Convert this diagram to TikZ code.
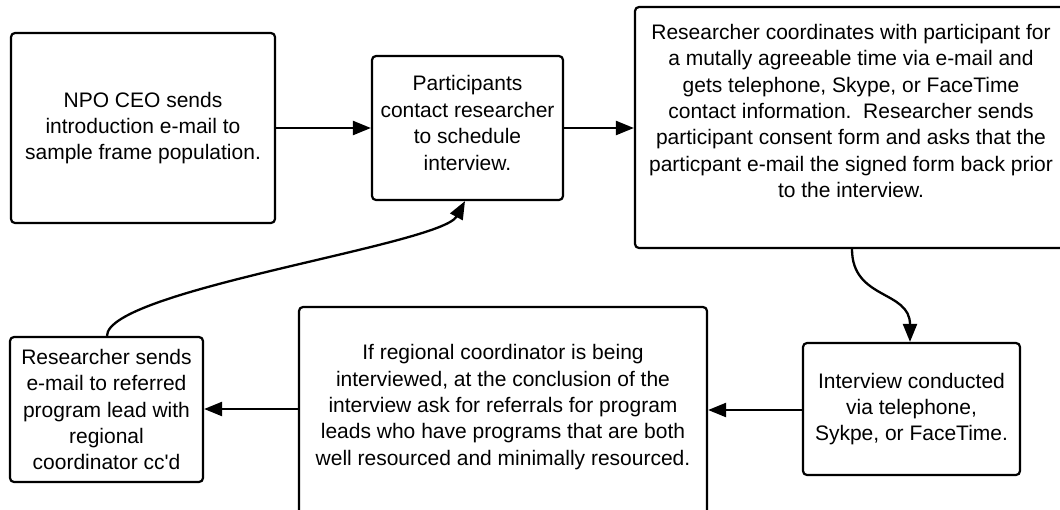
\documentclass[tikz,border=0pt]{standalone}
\usepackage{fontspec}
\setmainfont{Liberation Sans}
\usetikzlibrary{arrows.meta}

\begin{document}
\begin{tikzpicture}[x=1pt, y=-1pt,
  box/.style={draw=black, line width=2.2pt, rounded corners=4pt, fill=white,
    inner sep=0pt, align=center, font=\fontsize{21}{26.4}\selectfont},
  txt/.style={inner sep=0pt, align=center, font=\fontsize{21}{26.4}\selectfont},
  flow/.style={line width=2.3pt, -{Triangle[length=18pt, width=14pt]}}]
  \useasboundingbox (0,0) rectangle (1060,509);

  % process boxes
  \node[box, minimum width=264pt, minimum height=190pt] (ceo) at (143,128)
    {NPO CEO sends\\introduction e-mail to\\sample frame population.};
  \node[box, minimum width=191pt, minimum height=144pt] (contact) at (467.5,128) {};
  \node[txt] (contacttext) at (467.5,123)
    {Participants\\contact researcher\\to schedule\\interview.};
  \node[box, minimum width=431pt, minimum height=241pt] (coord) at (850.5,127.5) {};
  \node[txt] (coordtext) at (851,111)
    {Researcher coordinates with participant for\\
     a mutally agreeable time via e-mail and\\
     gets telephone, Skype, or FaceTime\\
     contact information.\ \ Researcher sends\\
     participant consent form and asks that the\\
     particpant e-mail the signed form back prior\\
     to the interview.};
  \node[box, minimum width=217pt, minimum height=132pt] (interview) at (911.5,409)
    {Interview conducted\\via telephone,\\Sykpe, or FaceTime.};
  \node[box, minimum width=408pt, minimum height=207pt] (referral) at (503,410.5) {};
  \node[txt] (referraltext) at (503,407)
    {If regional coordinator is being\\
     interviewed, at the conclusion of the\\
     interview ask for referrals for program\\
     leads who have programs that are both\\
     well resourced and minimally resourced.};
  \node[box, minimum width=193pt, minimum height=145pt] (lead) at (106.5,409.5)
    {Researcher sends\\e-mail to referred\\program lead with\\regional\\coordinator cc\textquotesingle d};

  % connectors
  \draw[flow] (ceo.east) -- (ceo.east -| contact.west);
  \draw[flow] (contact.east) -- (contact.east -| coord.west);
  \draw[flow] (coord.south -| 852,0) .. controls (852,300) and (910,290) .. (interview.north -| 910,0);
  \draw[flow] (interview.west |- 0,410) -- (referral.east |- 0,410);
  \draw[flow] (referral.west |- 0,409) -- (lead.east |- 0,409);
  \draw[flow] (lead.north -| 107,0) .. controls (107,290) and (441,245) .. (contact.south -| 465,0);
\end{tikzpicture}
\end{document}
